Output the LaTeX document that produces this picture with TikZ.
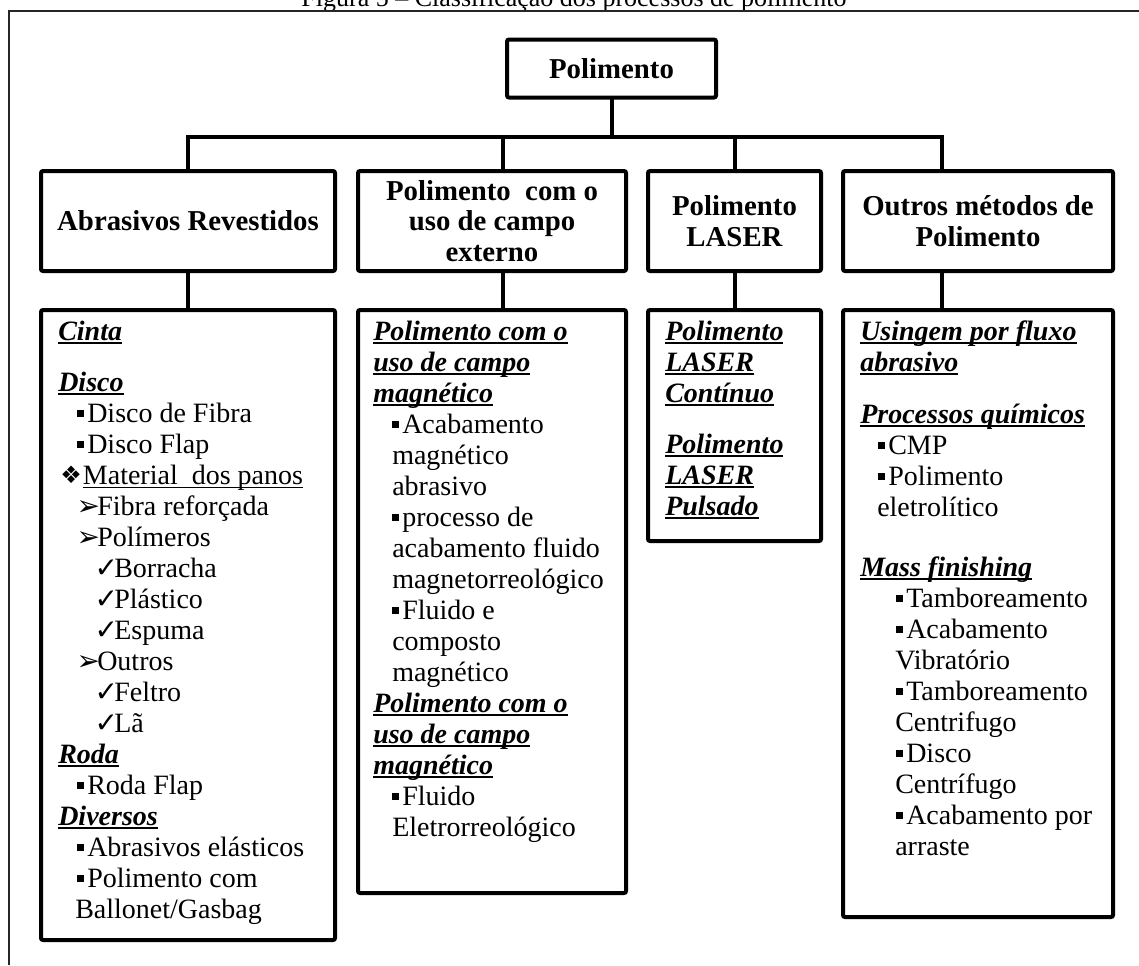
\documentclass[tikz,border=0pt]{standalone}
\usepackage{fontspec}
\setmainfont{Liberation Serif}
\newfontfamily\symfont{DejaVu Sans}
\usetikzlibrary{calc}

% fonts
\newcommand\bodyfont{\fontsize{21}{23.25}\selectfont}
\newcommand\headfont{\fontsize{21.6}{22.9}\selectfont\bfseries}
\newcommand\titlefont{\fontsize{19.5}{21}\selectfont}

% list markers (each with its own fixed advance, no height of their own)
\newcommand\marker[3]{\makebox[#1][l]{\raisebox{#2}[0pt][0pt]{#3}}}
\newcommand\bsq{\marker{7.5pt}{4pt}{\rule{5.3pt}{5pt}}}
\newcommand\bdia{\marker{17pt}{0.5pt}{\symfont\fontsize{18}{18}\selectfont ❖}}
\newcommand\barr{\marker{15pt}{0pt}{\hspace*{-0.5pt}\symfont\fontsize{21}{21}\selectfont ➢}}
\newcommand\bchk{\marker{14.25pt}{0pt}{\hspace*{-0.5pt}\symfont\fontsize{21}{21}\selectfont ✓}}
\newcommand\ind[1]{\hspace*{#1}}

% underlined text: rule at a fixed depth below the baseline
\newsavebox\ulbox
\newcommand\ulrule[3]{\sbox\ulbox{#3}\rlap{\rule[-#1]{\wd\ulbox}{#2}}\usebox\ulbox}
\newcommand\hd[1]{{\bfseries\itshape\ulrule{2.9pt}{1.4pt}{#1}}}
\newcommand\uln[1]{\ulrule{2.8pt}{0.8pt}{#1}}

\tikzset{
  box/.style={draw, line width=3pt, rounded corners=1.5pt, inner sep=0pt,
              align=center, font=\headfont},
  conn/.style={line width=3pt, line cap=rect},
  list/.style={anchor=base west, inner sep=0pt, font=\bodyfont},
  frame/.style={line width=1.6pt, draw=black!85},
}

\begin{document}
\begin{tikzpicture}[x=0.75pt, y=-0.75pt]
\useasboundingbox (0,0) rectangle (1139,965);

% caption and surrounding frame
\node[anchor=base, inner sep=0pt, font=\titlefont] (title) at (574,6.5)
  {Figura 5 – Classificação dos processos de polimento};
\draw[frame] (1139,11) -- (9,11) -- (9,965);

% root
\node[box, minimum width=156.75pt, minimum height=43.5pt] (root) at (611.5,68.5) {Polimento};

% first level
\node[box, minimum width=220.5pt, minimum height=75pt] (b1) at (188,221) {Abrasivos Revestidos};
\node[box, minimum width=201pt,   minimum height=75pt] (b2) at (492,221) {Polimento\ \ com o\\uso de campo\\externo};
\node[box, minimum width=129.75pt,minimum height=75pt] (b3) at (734.5,221) {Polimento\\LASER};
\node[box, minimum width=202.5pt, minimum height=75pt] (b4) at (978,221) {Outros métodos de\\Polimento};

% second level frames
\node[box, minimum width=220.5pt, minimum height=472.5pt]  (l1) at (188,625) {};
\node[box, minimum width=201pt,   minimum height=437.25pt] (l2) at (492,601.5) {};
\node[box, minimum width=129.75pt,minimum height=173.25pt] (l3) at (734.5,425.5) {};
\node[box, minimum width=202.5pt, minimum height=455.25pt] (l4) at (978,613.5) {};

% connectors
\coordinate (bus) at (0,137);
\coordinate (t1) at ($(b1.north west)!0.5!(b1.north east)$);
\coordinate (t2) at ($(b2.north west)!0.541!(b2.north east)$);
\coordinate (t3) at ($(b3.north west)!0.5!(b3.north east)$);
\coordinate (t4) at ($(b4.north west)!0.37!(b4.north east)$);
\coordinate (s1) at ($(b1.south west)!0.5!(b1.south east)$);
\coordinate (s2) at ($(b2.south west)!0.541!(b2.south east)$);
\coordinate (s3) at ($(b3.south west)!0.5!(b3.south east)$);
\coordinate (s4) at ($(b4.south west)!0.37!(b4.south east)$);

\draw[conn] (root.south) -- (root.south |- bus);
\draw[conn] (t1) -- (t1 |- bus) -- (t4 |- bus) -- (t4);
\draw[conn] (t2) -- (t2 |- bus);
\draw[conn] (t3) -- (t3 |- bus);
\draw[conn] (s1) -- (s1 |- l1.north);
\draw[conn] (s2) -- (s2 |- l2.north);
\draw[conn] (s3) -- (s3 |- l3.north);
\draw[conn] (s4) -- (s4 |- l4.north);

% contents of the second level
\node[list] (x1) at (58,340) {\begin{tabular}[t]{@{}l@{}}
\hd{Cinta}\\[15pt]
\hd{Disco}\\
\ind{14.25pt}\bsq Disco de Fibra\\
\ind{14.25pt}\bsq Disco Flap\\
\ind{1.5pt}\bdia\uln{Material\ \ dos panos}\\
\ind{14.25pt}\barr Fibra reforçada\\
\ind{14.25pt}\barr Polímeros\\
\ind{27.75pt}\bchk Borracha\\
\ind{27.75pt}\bchk Plástico\\
\ind{27.75pt}\bchk Espuma\\
\ind{14.25pt}\barr Outros\\
\ind{27.75pt}\bchk Feltro\\
\ind{27.75pt}\bchk Lã\\
\hd{Roda}\\
\ind{14.25pt}\bsq Roda Flap\\
\hd{Diversos}\\
\ind{14.25pt}\bsq Abrasivos elásticos\\
\ind{14.25pt}\bsq Polimento com\\
\ind{12.75pt}Ballonet/Gasbag
\end{tabular}};

\node[list] (x2) at (373,340) {\begin{tabular}[t]{@{}l@{}}
\hd{Polimento com o}\\
\hd{uso de campo}\\
\hd{magnético}\\
\ind{14.25pt}\bsq Acabamento\\
\ind{14.25pt}magnético\\
\ind{14.25pt}abrasivo\\
\ind{14.25pt}\bsq processo de\\
\ind{14.25pt}acabamento fluido\\
\ind{14.25pt}magnetorreológico\\
\ind{14.25pt}\bsq Fluido e\\
\ind{14.25pt}composto\\
\ind{14.25pt}magnético\\
\hd{Polimento com o}\\
\hd{uso de campo}\\
\hd{magnético}\\
\ind{14.25pt}\bsq Fluido\\
\ind{14.25pt}Eletrorreológico
\end{tabular}};

\node[list] (x3) at (665,340) {\begin{tabular}[t]{@{}l@{}}
\hd{Polimento}\\
\hd{LASER}\\
\hd{Contínuo}\\[15pt]
\hd{Polimento}\\
\hd{LASER}\\
\hd{Pulsado}
\end{tabular}};

\node[list] (x4) at (860,340) {\begin{tabular}[t]{@{}l@{}}
\hd{Usingem por fluxo}\\
\hd{abrasivo}\\[15.75pt]
\hd{Processos químicos}\\
\ind{13.5pt}\bsq CMP\\
\ind{13.5pt}\bsq Polimento\\
\ind{12.75pt}eletrolítico\\[21.75pt]
\hd{Mass finishing}\\
\ind{27pt}\bsq Tamboreamento\\
\ind{27pt}\bsq Acabamento\\
\ind{26.25pt}Vibratório\\
\ind{27pt}\bsq Tamboreamento\\
\ind{26.25pt}Centrifugo\\
\ind{27pt}\bsq Disco\\
\ind{26.25pt}Centrífugo\\
\ind{27pt}\bsq Acabamento por\\
\ind{26.25pt}arraste
\end{tabular}};
\end{tikzpicture}
\end{document}
